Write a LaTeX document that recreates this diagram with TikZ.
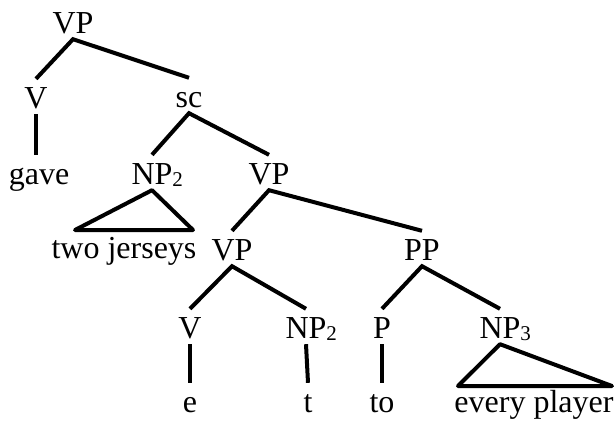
\documentclass[tikz,border=0pt]{standalone}
\usepackage{fontspec}
\setmainfont{Liberation Serif}
\newcommand{\idx}[1]{\rlap{\raisebox{-2pt}{\fontsize{21}{21}\selectfont #1}}}
\tikzset{
    tn/.style={anchor=base, inner xsep=0pt, inner ysep=6pt, text height=23pt, text depth=0pt},
    br/.style={line width=4pt}
}
\begin{document}
\begin{tikzpicture}[x=1pt, y=-1pt, font=\fontsize{32}{36}\selectfont]
        \useasboundingbox (0,0) rectangle (614,421);
        \node[tn] at (73,33) (vp){VP};
        \node[tn] at (36,108) (v){V};
        \node[tn] at (189,107) (sc){sc};
        \node[tn] at (39,184) (gave){gave};
        \node[tn] at (152,184) (nptwo){NP\idx{2}};
        \node[tn] at (269,184) (vpb){VP};
        \node[tn] at (124,258) (twoj){two jerseys};
        \node[tn] at (232,260) (vpc){VP};
        \node[tn] at (422,260) (pp){PP};
        \node[tn] at (190,338) (vc){V};
        \node[tn] at (306,338) (npt){NP\idx{2}};
        \node[tn] at (382,338) (p){P};
        \node[tn] at (500,338) (npthree){NP\idx{3}};
        \node[tn] at (190,412) (e){e};
        \node[tn] at (308,412) (t){t};
        \node[tn] at (382,412) (to){to};
        \node[tn] at (534,412) (every){every player};
        \coordinate (twol) at (75,230);
        \coordinate (twor) at (193,230);
        \coordinate (everyl) at (458,386);
        \coordinate (everyr) at (612,386);
        \draw[br] (v.north) -- (vp.south) -- (sc.north);
        \draw[br] (v.south) -- (v.south |- gave.north);
        \draw[br] (nptwo.north) -- (sc.south) -- (vpb.north);
        \draw[br, line join=round] (nptwo.south) -- (twol) -- (twor) -- cycle;
        \draw[br] (vpc.north) -- (vpb.south) -- (pp.north);
        \draw[br] (vc.north) -- (vpc.south) -- (npt.north);
        \draw[br] (p.north) -- (pp.south) -- (npthree.north);
        \draw[br] (vc.south) -- (e.north);
        \draw[br] (npt.south) -- (t.north);
        \draw[br] (p.south) -- (to.north);
        \draw[br, line join=round] (npthree.south) -- (everyl) -- (everyr) -- cycle;
    \end{tikzpicture}
\end{document}
